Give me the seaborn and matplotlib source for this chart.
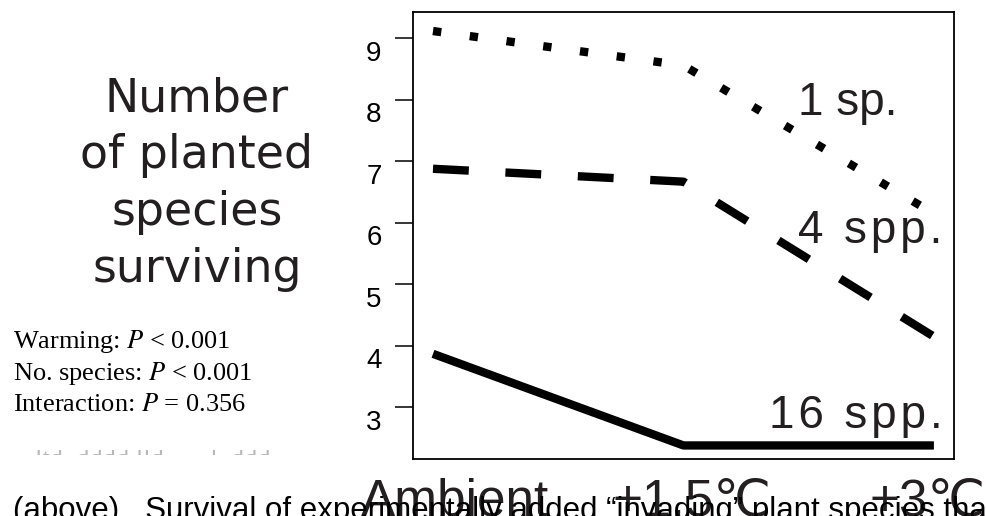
import matplotlib
matplotlib.use("Agg")
import matplotlib.pyplot as plt
import matplotlib.transforms as mtransforms
from matplotlib.transforms import Bbox
import pandas as pd
import seaborn as sns

# values
treatment = ["Ambient", "+1.5\u2103", "+3\u2103"]
groups = ["1 sp.", "4 spp.", "16 spp."]
one_sp = [9.12, 8.56, 6.15]
four_spp = [6.88, 6.67, 4.15]
sixteen_spp = [3.87, 2.38, 2.38]
y_ticks = [3, 4, 5, 6, 7, 8, 9]

title_lines = ["Number", "of planted", "species", "surviving"]
stats_lines = ["Warming: $P$ < 0.001",
               "No. species: $P$ < 0.001",
               "Interaction: $P$ = 0.356"]
caption = "(above).  Survival of experimentally added \u201cinvading\u201d plant species that"

ink = "#231f20"
hair = "\u200a"

df = pd.DataFrame({
    "pos": list(range(len(treatment))) * len(groups),
    "group": [g for g in groups for _ in treatment],
    "surviving": one_sp + four_spp + sixteen_spp,
})

sns.set_style("ticks")
plt.rcParams["font.family"] = ["Liberation Sans", "DejaVu Sans"]
plt.rcParams["mathtext.fontset"] = "stix"

fig = plt.figure(figsize=(9.87, 5.16), dpi=100)
ax = fig.add_axes([0.4184, 0.1105, 0.5481, 0.8663])

sns.lineplot(data=df, x="pos", y="surviving", hue="group", style="group",
             palette=["black"] * 3,
             dashes={"1 sp.": (1, 3.45), "4 spp.": (4.3, 4.4), "16 spp.": ""},
             linewidth=6, solid_capstyle="butt", dash_capstyle="butt",
             legend=False, sort=False, ax=ax)

ax.set_xlim(-0.08, 2.08)
ax.set_ylim(2.16, 9.43)
ax.set_yticks(y_ticks)
ax.set_xticks(range(len(treatment)), treatment)
ax.set_xlabel("")
ax.set_ylabel("")
for s in ax.spines.values():
    s.set_visible(True)
    s.set_linewidth(1.3)
    s.set_color("black")
ax.tick_params(axis="y", length=13, width=1.1, pad=9.5, labelsize=20, colors="black")
ax.tick_params(axis="x", length=0, pad=41, labelsize=37, labelcolor=ink)

# y labels hang just below their ticks in the original
for lab in ax.get_yticklabels():
    lab.set_transform(lab.get_transform() +
                      mtransforms.ScaledTranslation(0, -12.5 / 100, fig.dpi_scale_trans))

# the big treatment labels sit a bit off their ticks in the original
offsets = [22, 9, -6]
for lab, dx in zip(ax.get_xticklabels(), offsets):
    lab.set_va("baseline")
    lab.set_transform(lab.get_transform() +
                      mtransforms.ScaledTranslation(dx / 100, 0, fig.dpi_scale_trans))

# line labels
label_x = [1.457, 1.457, 1.341]
label_y = [7.75, 5.67, 2.66]
label_txt = [groups[0], hair.join(groups[1]), hair.join(groups[2])]
for txt, lx, ly in zip(label_txt, label_x, label_y):
    ax.text(lx, ly, txt, fontsize=33, color=ink, ha="left", va="baseline")

# y title, one line at a time
title_base = [112, 168, 225, 282]
for line, b in zip(title_lines, title_base):
    fig.text(197 / 987, 1 - b / 516, line, ha="center", va="baseline",
             fontsize=33, family="DejaVu Sans", color=ink)

# statistics
stats_base = [348, 380, 411]
for line, b in zip(stats_lines, stats_base):
    fig.text(13 / 987, 1 - b / 516, line, ha="left", va="baseline",
             fontsize=19, family="Liberation Serif", color="black")

# faint remains of a covered line below the stats
ghost = fig.text(35 / 987, 1 - 466 / 516, "ltd. dddd lld       l. ddd",
                 ha="left", va="baseline", fontsize=19,
                 family="Liberation Serif", color="#b8b8b8")
ghost.set_clip_box(Bbox.from_extents(0, 516 - 455, 330, 516 - 450))
ghost.set_clip_on(True)

# caption cut off at the bottom edge
fig.text(13 / 987, -3 / 516, caption, ha="left", va="baseline",
         fontsize=22.5, color="black", zorder=5)

fig.savefig("out.png", dpi=100)
